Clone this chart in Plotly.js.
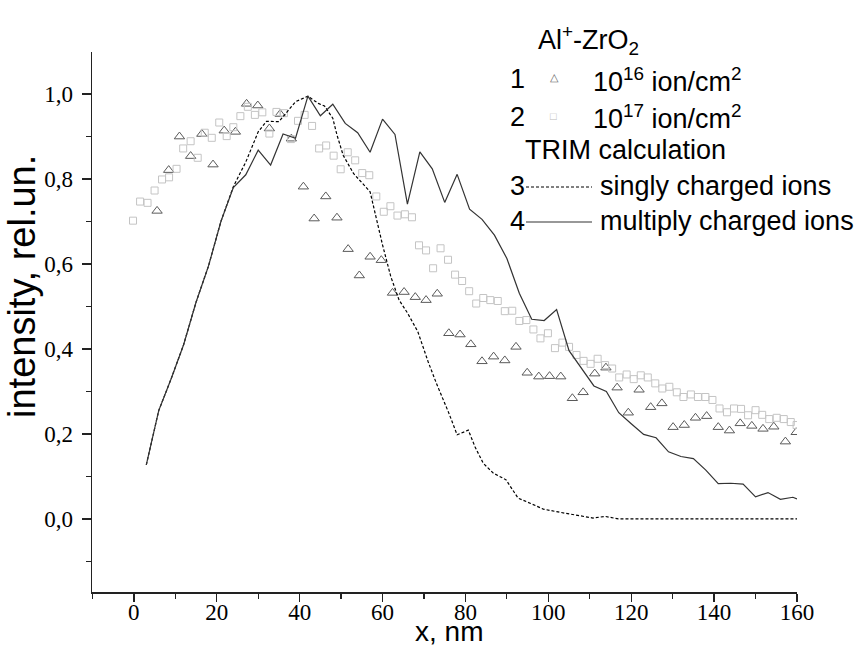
<!DOCTYPE html>
<html>
<head>
<meta charset="utf-8">
<script src="https://cdn.plot.ly/plotly-3.0.1.min.js"></script>
<style>html,body{margin:0;padding:0;background:#fff;}#chart{width:867px;height:646px;}</style>
</head>
<body>
<div id="chart"></div>
<script>
// Series 1: 10^16 ion/cm^2 (triangles)
const x1 = [5.6, 8.4, 11.0, 13.7, 16.4, 19.1, 21.8, 24.5, 27.2, 29.9, 32.7, 35.3, 38.0, 40.9, 43.5, 46.3, 49.0, 51.7, 54.4, 57.0, 59.7, 62.4, 65.2, 67.9, 70.5, 73.2, 76.0, 78.7, 81.3, 84.0, 86.8, 89.5, 92.2, 94.9, 97.7, 100.3, 103.0, 105.8, 108.4, 111.2, 113.9, 116.6, 119.3, 121.9, 124.7, 127.4, 130.1, 132.8, 135.5, 138.2, 141.0, 143.7, 146.3, 149.1, 151.8, 154.4, 157.2, 159.8];
const y1 = [0.725, 0.821, 0.900, 0.854, 0.906, 0.834, 0.914, 0.911, 0.977, 0.973, 0.919, 0.953, 0.895, 0.782, 0.707, 0.759, 0.709, 0.635, 0.573, 0.617, 0.609, 0.532, 0.534, 0.522, 0.515, 0.530, 0.437, 0.434, 0.411, 0.371, 0.382, 0.373, 0.405, 0.344, 0.335, 0.336, 0.335, 0.284, 0.298, 0.342, 0.356, 0.309, 0.250, 0.304, 0.263, 0.272, 0.216, 0.221, 0.238, 0.242, 0.216, 0.208, 0.225, 0.219, 0.212, 0.217, 0.182, 0.204];

// Series 2: 10^17 ion/cm^2 (squares)
const x2 = [-0.2, 1.5, 3.3, 5.0, 6.8, 8.5, 10.3, 11.9, 13.7, 15.4, 17.1, 18.8, 20.6, 22.4, 24.0, 25.7, 27.5, 29.2, 31.0, 32.7, 34.4, 36.2, 37.9, 39.6, 41.2, 43.0, 44.7, 46.4, 48.2, 49.9, 51.6, 53.4, 55.1, 56.8, 58.5, 60.3, 61.9, 63.6, 65.4, 67.1, 68.8, 70.5, 72.2, 74.0, 75.8, 77.5, 79.2, 80.9, 82.6, 84.3, 86.0, 87.8, 89.5, 91.3, 93.0, 94.7, 96.4, 98.1, 99.9, 101.6, 103.4, 105.0, 106.8, 108.5, 110.2, 111.9, 113.7, 115.4, 117.1, 118.9, 120.6, 122.3, 124.0, 125.8, 127.5, 129.2, 131.0, 132.6, 134.4, 136.1, 137.9, 139.6, 141.3, 143.1, 144.8, 146.5, 148.2, 150.0, 151.6, 153.3, 155.1, 156.8, 158.5, 159.9];
const y2 = [0.702, 0.747, 0.744, 0.773, 0.799, 0.804, 0.824, 0.872, 0.889, 0.850, 0.909, 0.897, 0.933, 0.901, 0.922, 0.948, 0.970, 0.951, 0.957, 0.907, 0.958, 0.955, 0.894, 0.937, 0.951, 0.925, 0.872, 0.879, 0.855, 0.823, 0.863, 0.844, 0.814, 0.809, 0.759, 0.723, 0.736, 0.714, 0.717, 0.710, 0.644, 0.632, 0.590, 0.637, 0.610, 0.575, 0.560, 0.536, 0.507, 0.520, 0.515, 0.513, 0.489, 0.490, 0.466, 0.468, 0.446, 0.425, 0.437, 0.402, 0.415, 0.405, 0.386, 0.372, 0.365, 0.377, 0.362, 0.354, 0.333, 0.340, 0.329, 0.338, 0.333, 0.319, 0.307, 0.311, 0.298, 0.287, 0.293, 0.287, 0.287, 0.280, 0.260, 0.251, 0.260, 0.259, 0.244, 0.256, 0.245, 0.235, 0.238, 0.235, 0.228, 0.221];

// Series 3: TRIM singly charged ions (dashed)
const x3 = [3, 6, 9, 12, 15, 18, 21, 24, 27, 28.5, 30, 32, 35, 39, 42, 44.5, 46, 48, 49, 50.5, 53, 57, 58.6, 60, 62, 64, 66, 68.5, 71, 73, 76, 78, 80.7, 82.3, 84.3, 86.7, 89.8, 92.7, 95.6, 98.8, 102, 105.2, 108, 110.8, 113.7, 116.9, 160];
const y3 = [0.127, 0.255, 0.33, 0.41, 0.51, 0.595, 0.70, 0.782, 0.84, 0.876, 0.911, 0.936, 0.935, 0.982, 0.995, 0.978, 0.972, 0.943, 0.904, 0.856, 0.813, 0.770, 0.700, 0.645, 0.570, 0.515, 0.485, 0.441, 0.370, 0.319, 0.249, 0.198, 0.209, 0.170, 0.131, 0.108, 0.092, 0.049, 0.037, 0.023, 0.017, 0.012, 0.007, 0.002, 0.006, 0.0, 0.0];

// Series 4: TRIM multiply charged ions (solid)
const x4 = [3, 6, 9, 12, 15, 18, 21, 24, 27, 30, 33, 36, 39, 42, 45, 48, 51, 54, 57, 60, 63, 66, 69, 72, 75, 78, 81, 84, 87, 90, 93, 96, 99, 102, 105, 108, 111, 114, 117, 120, 123, 126, 129, 132, 135, 138, 141, 144, 147, 150, 153, 156, 159, 160];
const y4 = [0.127, 0.255, 0.330, 0.410, 0.510, 0.595, 0.700, 0.780, 0.810, 0.868, 0.833, 0.906, 0.896, 0.995, 0.949, 0.976, 0.931, 0.909, 0.863, 0.941, 0.905, 0.741, 0.864, 0.824, 0.745, 0.811, 0.729, 0.705, 0.668, 0.613, 0.531, 0.470, 0.467, 0.493, 0.396, 0.355, 0.313, 0.300, 0.250, 0.224, 0.199, 0.191, 0.158, 0.147, 0.142, 0.115, 0.083, 0.084, 0.082, 0.052, 0.062, 0.046, 0.051, 0.047];

// Text
const titleText = 'Al<sup>+</sup>-ZrO<sub>2</sub>';
const seriesNums = ['1', '2', '3', '4'];
const seriesNames = ['10<sup>16</sup> ion/cm<sup>2</sup>', '10<sup>17</sup> ion/cm<sup>2</sup>', 'singly charged ions', 'multiply charged ions'];
const groupTitle = 'TRIM calculation';
const xTitle = 'x, nm';
const yTitle = 'intensity, rel.un.';

const W = 867, H = 646;
const M = {l: 92, r: 70, t: 52, b: 54};
const px = v => (v - M.l) / (W - M.l - M.r);
const py = v => (H - M.b - v) / (H - M.t - M.b);

const sans = 'Liberation Sans, Arial, sans-serif';
const serif = 'Liberation Serif, Times New Roman, serif';

const traces = [
  {x: x1, y: y1, mode: 'markers', type: 'scatter', name: seriesNames[0],
   marker: {symbol: 'triangle-up-open', size: 9, color: '#5a5a5a', line: {width: 1, color: '#5a5a5a'}}},
  {x: x2, y: y2, mode: 'markers', type: 'scatter', name: seriesNames[1],
   marker: {symbol: 'square-open', size: 7, color: '#c4c4c4', line: {width: 1, color: '#c4c4c4'}}},
  {x: x3, y: y3, mode: 'lines', type: 'scatter', name: seriesNames[2],
   line: {color: '#000', width: 1.2, dash: '3px,2px'}},
  {x: x4, y: y4, mode: 'lines', type: 'scatter', name: seriesNames[3],
   line: {color: '#333', width: 1.2}}
];

const ann = [];
const txt = (text, x, y, size, color, anchor, angle) => ann.push({
  text: text, xref: 'paper', yref: 'paper', x: px(x), y: py(y),
  xanchor: anchor || 'left', yanchor: 'middle', showarrow: false, textangle: angle || 0,
  font: {family: sans, size: size, color: color || '#000'}
});
const LF = 27;
txt(titleText, 536, 40, LF);
txt(seriesNums[0], 517, 79, LF, '#000', 'center');
txt(seriesNums[1], 517, 117, LF, '#000', 'center');
txt('\u25B3', 554, 77, 11, '#666', 'center');
txt('\u25A1', 553, 116, 11, '#bbb', 'center');
txt(seriesNames[0], 591, 80, LF);
txt(seriesNames[1], 591, 117, LF);
txt(groupTitle, 523, 150, LF);
txt(seriesNums[2], 517, 186, LF, '#000', 'center');
txt(seriesNums[3], 517, 221, LF, '#000', 'center');
txt(seriesNames[2], 598, 186, LF);
txt(seriesNames[3], 598, 221, LF);
// axis titles placed as in the reference
txt(xTitle, 449, 631, 28, '#000', 'center');
txt(yTitle, 22, 287, 38, '#000', 'center', -90);

const shapes = [
  {type: 'line', xref: 'paper', yref: 'paper', x0: px(526), x1: px(592), y0: py(187), y1: py(187),
   line: {color: '#000', width: 1, dash: '3px,2px'}},
  {type: 'line', xref: 'paper', yref: 'paper', x0: px(526), x1: px(592), y0: py(222), y1: py(222),
   line: {color: '#333', width: 1.2}}
];

const layout = {
  width: W, height: H,
  margin: M,
  paper_bgcolor: '#fff', plot_bgcolor: '#fff',
  showlegend: false,
  separators: ', ',
  font: {family: serif, color: '#000'},
  xaxis: {
    range: [-10.1, 160], tick0: 0, dtick: 20,
    showgrid: false, zeroline: false, showline: true, linecolor: '#222', linewidth: 1.5,
    ticks: 'outside', ticklen: 8, tickwidth: 1.3, tickcolor: '#222',
    minor: {dtick: 10, ticks: 'outside', ticklen: 5, tickwidth: 1.2, tickcolor: '#222', showgrid: false},
    tickfont: {family: serif, size: 23, color: '#000'},
    ticklabelstandoff: -9
  },
  yaxis: {
    range: [-0.172, 1.099], tick0: 0, dtick: 0.2, tickformat: '.1f',
    showgrid: false, zeroline: false, showline: true, linecolor: '#222', linewidth: 1.5,
    ticks: 'outside', ticklen: 9, tickwidth: 1.3, tickcolor: '#222',
    minor: {dtick: 0.1, ticks: 'outside', ticklen: 5, tickwidth: 1.2, tickcolor: '#222', showgrid: false},
    tickfont: {family: serif, size: 23, color: '#000'},
    ticklabelstandoff: 4
  },
  annotations: ann,
  shapes: shapes
};

Plotly.newPlot('chart', traces, layout, {displayModeBar: false, staticPlot: true});
</script>
</body>
</html>
